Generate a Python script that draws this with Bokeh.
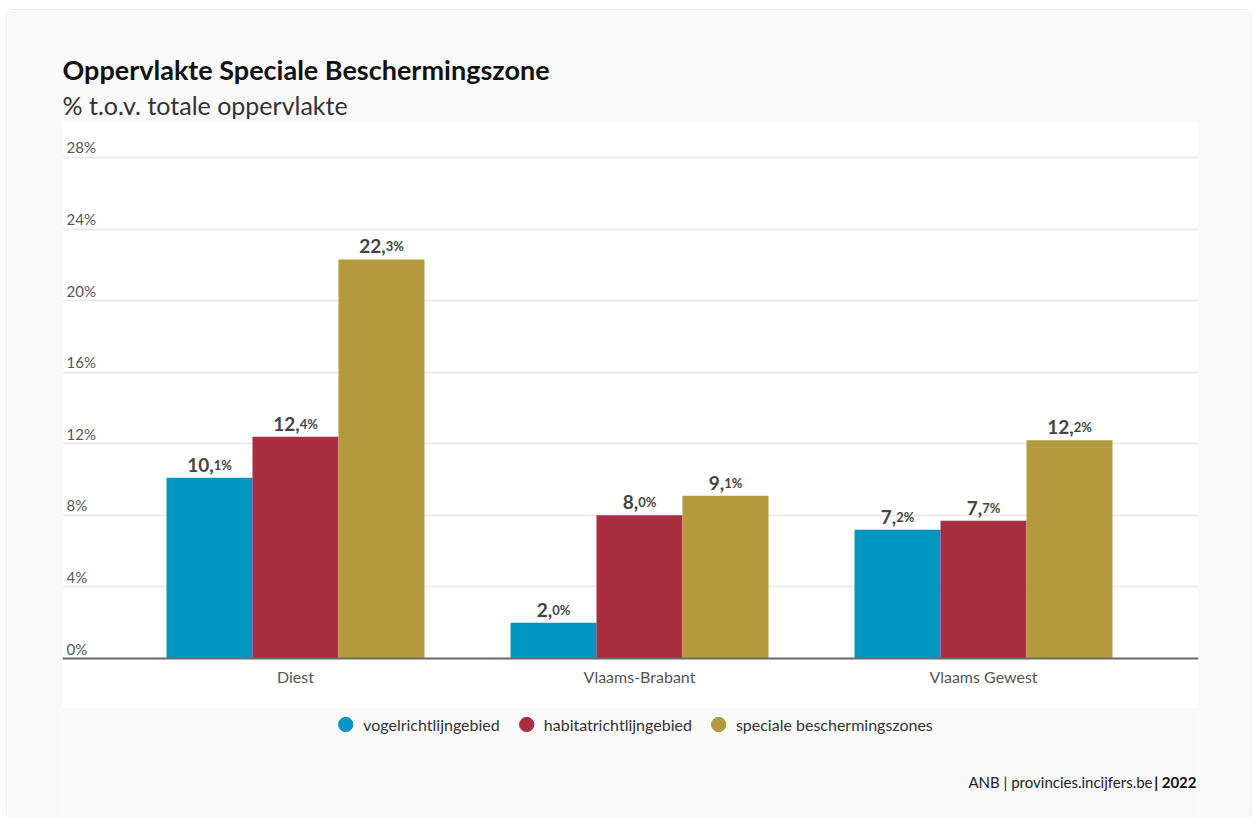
from bokeh.plotting import figure
from bokeh.models import (Range1d, FixedTicker, Title, Legend, LegendItem, ColumnDataSource,
                          Span, BoxAnnotation, Label)
from bokeh.transform import dodge
from bokeh.core.properties import value
from bokeh.embed import file_html
from bokeh.resources import INLINE

# ---- data ----
categories = ["Diest", "Vlaams-Brabant", "Vlaams Gewest"]
series_names = ["vogelrichtlijngebied", "habitatrichtlijngebied", "speciale beschermingszones"]
vogel = [10.1, 2.0, 7.2]
habitat = [12.4, 8.0, 7.7]
speciale = [22.3, 9.1, 12.2]
series_colors = ["#0096c1", "#a92f40", "#b39a3d"]
y_ticks = [0, 4, 8, 12, 16, 20, 24, 28]
y_tick_labels = ["0%", "4%", "8%", "12%", "16%", "20%", "24%", "28%"]
title_text = "Oppervlakte Speciale Beschermingszone"
subtitle_text = "% t.o.v. totale oppervlakte"
source_text = "ANB | provincies.incijfers.be"
source_year = "| 2022"

FONT = "Lato"
GRAY_BG = "#f9f9f9"

x_start, x_end = -0.6773, 2.625
y_start, y_end = -8.942, 29.956
white_bottom = -2.794   # lower edge of the white plotting panel

p = figure(width=1244, height=808,
           x_range=Range1d(x_start, x_end), y_range=Range1d(y_start, y_end),
           output_backend="svg", toolbar_location=None,
           min_border_left=55, min_border_right=53, min_border_top=112, min_border_bottom=0,
           background_fill_color="white", border_fill_color=GRAY_BG,
           outline_line_color=None)
p.styles = {"margin-left": "7px", "margin-top": "10px",
            "box-shadow": "0 0 0 1px #ececec", "border-radius": "6px"}

p.axis.visible = False
p.xgrid.visible = False
p.ygrid.ticker = FixedTicker(ticks=y_ticks)
p.ygrid.grid_line_color = "#ebebeb"
p.ygrid.grid_line_width = 2

# gray area under the white plotting panel (legend / source zone)
p.add_layout(BoxAnnotation(top=white_bottom, fill_color=GRAY_BG, fill_alpha=1,
                           line_color=GRAY_BG, line_width=2, level="underlay"))

# y tick labels (inside plot area, above grid lines)
ysrc = ColumnDataSource(dict(x=[x_start] * len(y_ticks), y=y_ticks, t=y_tick_labels))
p.text(x="x", y="y", text="t", source=ysrc, x_offset=4, y_offset=-10,
       text_align="left", text_baseline="alphabetic",
       text_font=value(FONT), text_font_size="15px", text_color="#555555")

# zero line
p.add_layout(Span(location=0, dimension="width", line_color="#6b6b6b", line_width=2))

# category labels
csrc = ColumnDataSource(dict(x=list(range(len(categories))), y=[0] * len(categories), t=categories))
p.text(x="x", y="y", text="t", source=csrc, y_offset=8,
       text_align="center", text_baseline="top",
       text_font=value(FONT), text_font_size="16px", text_color="#555555")

# bars + value labels
bar_w = 0.25
offsets = [-bar_w, 0.0, bar_w]
legend_items = []
for vals, name, col, off in zip([vogel, habitat, speciale], series_names, series_colors, offsets):
    txt = [f"{v:.1f}".replace(".", ",") for v in vals]
    ints = [t.split(",")[0] + "," for t in txt]
    decs = [t.split(",")[1] + "%" for t in txt]
    w_int = [11.0 * (len(s) - 1) + 4.8 for s in ints]
    w_dec = 18.5
    shift = [(wi - w_dec) / 2 for wi in w_int]
    src = ColumnDataSource(dict(x=list(range(len(categories))), top=vals,
                                ints=ints, decs=decs, xo=shift))
    p.vbar(x=dodge("x", off, range=p.x_range), top="top", width=bar_w, bottom=0,
           source=src, fill_color=col, line_color=None)
    p.text(x=dodge("x", off, range=p.x_range), y="top", text="ints", source=src,
           x_offset="xo", y_offset=-13, text_align="right", text_baseline="alphabetic",
           text_font=value(FONT), text_font_style="bold", text_font_size="19px",
           text_color="#444444")
    p.text(x=dodge("x", off, range=p.x_range), y="top", text="decs", source=src,
           x_offset="xo", y_offset=-13, text_align="left", text_baseline="alphabetic",
           text_font=value(FONT), text_font_style="bold", text_font_size="13px",
           text_color="#444444")
    # hidden marker renderer, only used for the legend swatch
    r = p.scatter(x=dodge("x", off, range=p.x_range), y="top", source=src,
                  marker="circle", size=15, fill_color=col, line_color=col, visible=False)
    legend_items.append(LegendItem(label=name, renderers=[r]))

legend = Legend(items=legend_items, orientation="horizontal", location="bottom_center",
                glyph_width=36, glyph_height=36, label_standoff=-9, spacing=8,
                padding=0, margin=76, border_line_color=None, background_fill_alpha=0,
                inactive_fill_alpha=0,
                label_text_font=FONT, label_text_font_size="16px", label_text_color="#333333")
p.add_layout(legend, "center")

# source line
p.add_layout(Label(x=1134, y=37, x_units="screen", y_units="screen", text=source_year,
                   text_font=FONT, text_font_style="bold", text_font_size="15px",
                   text_color="#111111", text_baseline="alphabetic", text_align="right"))
p.add_layout(Label(x=1090, y=37, x_units="screen", y_units="screen", text=source_text,
                   text_font=FONT, text_font_size="15px",
                   text_color="#222222", text_baseline="alphabetic", text_align="right"))

# title (outer) and subtitle (next to the plot area)
p.title.text = title_text
p.title.align = "left"
p.title.text_font = FONT
p.title.text_font_style = "bold"
p.title.text_font_size = "27px"
p.title.text_color = "#111111"
p.title.standoff = 0
p.add_layout(Title(text=subtitle_text, align="left", standoff=5,
                   text_font=FONT, text_font_style="normal", text_font_size="25px",
                   text_line_height=0.85, text_color="#333333"), "above")

open("out.html", "w").write(file_html(p, INLINE))
